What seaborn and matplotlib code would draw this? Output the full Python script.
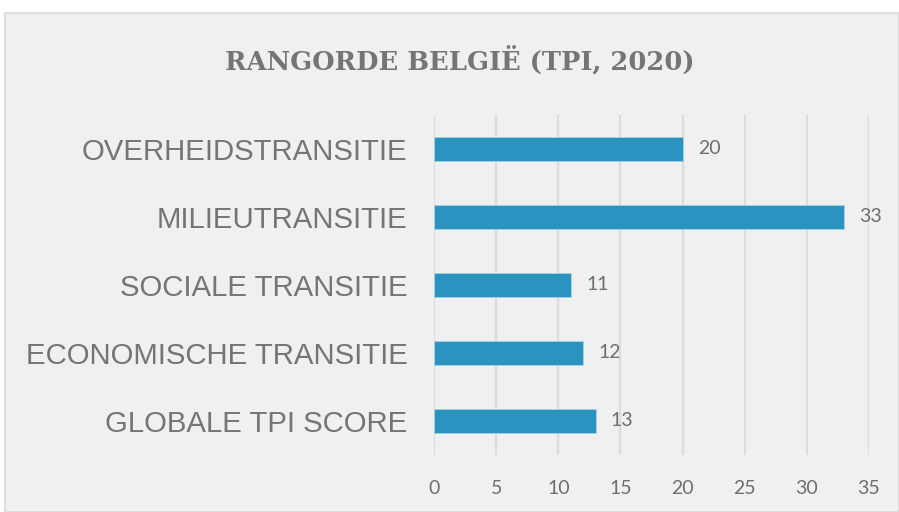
import matplotlib
matplotlib.use("Agg")
import matplotlib.pyplot as plt
import matplotlib.patches as mpatches
import pandas as pd
import seaborn as sns

# data
categories = ["OVERHEIDSTRANSITIE", "MILIEUTRANSITIE", "SOCIALE TRANSITIE",
              "ECONOMISCHE TRANSITIE", "GLOBALE TPI SCORE"]
ranks = [20, 33, 11, 12, 13]
x_ticks = [0, 5, 10, 15, 20, 25, 30, 35]
title = "RANGORDE BELGIË (TPI, 2020)"

bar_color = "#2a93c0"
text_grey = "#757575"

df = pd.DataFrame({"category": categories, "rank": ranks})

sns.set_style("white")
fig = plt.figure(figsize=(8.99, 5.12), dpi=100)
fig.patch.set_facecolor("white")

# grey chart area with thin border
bg = mpatches.Rectangle((5 / 899, 0), 1 - 5 / 899, 1 - 13 / 512,
                        transform=fig.transFigure, facecolor="#f0f0f0",
                        edgecolor="#d9d9d9", linewidth=1.2, zorder=-5)
fig.patches.append(bg)

ax = fig.add_axes([434 / 899, 1 - 455 / 512, (869 - 434) / 899, (455 - 115) / 512])
ax.set_facecolor("none")

sns.barplot(data=df, x="rank", y="category", orient="h", color=bar_color,
            width=0.35, saturation=1, ax=ax, zorder=3,
            edgecolor="#a9d2e6", linewidth=0.6)

ax.set_xlim(0, 35)
ax.set_xticks(x_ticks)
ax.set_axisbelow(True)
ax.grid(axis="x", color="#dcdcdc", linewidth=1.6, zorder=0)
ax.grid(axis="y", visible=False)
for s in ax.spines.values():
    s.set_visible(False)
ax.set_xlabel("")
ax.set_ylabel("")
ax.tick_params(axis="x", length=0, pad=18, labelsize=14, labelcolor="#6e6e6e")
ax.tick_params(axis="y", length=0, pad=19, labelsize=21.2, labelcolor=text_grey)
for lab in ax.get_xticklabels():
    lab.set_family("Lato")
for lab in ax.get_yticklabels():
    lab.set_family("Liberation Sans")

for c in ax.containers:
    ax.bar_label(c, labels=[str(v) for v in ranks], padding=11,
                 fontsize=14, color="#6e6e6e", family="Lato")

fig.text(460 / 899, 1 - 60 / 512, title, ha="center", va="center",
         fontsize=18.5, color=text_grey, family="DejaVu Serif",
         fontweight="bold")

fig.savefig("out.png", dpi=100)
